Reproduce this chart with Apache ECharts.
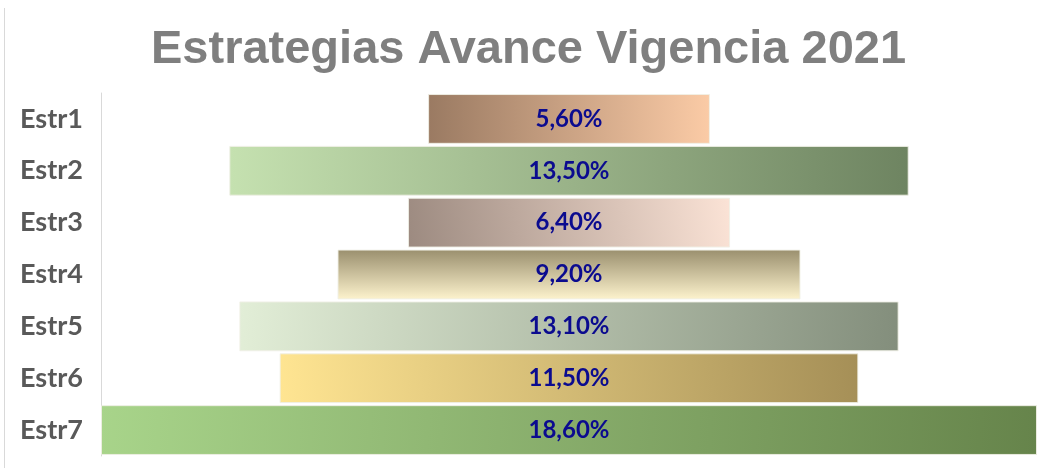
<!DOCTYPE html>
<html>
<head>
<meta charset="utf-8">
<script src="https://cdn.jsdelivr.net/npm/echarts@6/dist/echarts.min.js"></script>
<style>
html,body{margin:0;padding:0;background:#fff;}
#chart{width:1043px;height:468px;}
</style>
</head>
<body>
<div id="chart"></div>
<script>
const titleText = 'Estrategias Avance Vigencia 2021';
const categories = ['Estr1','Estr2','Estr3','Estr4','Estr5','Estr6','Estr7'];
const values = [5.6, 13.5, 6.4, 9.2, 13.1, 11.5, 18.6];
const axisMax = 18.6;

// gradient definitions per bar: [x, y, x2, y2, startColor, endColor]
const gradients = [
  [0,0,1,0,'#9A7A62','#FBCBA6'],
  [0,0,1,0,'#C5E1B0','#6E8461'],
  [0,1,1,0,'#9C8A80','#FBE3D6'],
  [0,0,0,1,'#9A8F6E','#FDF3CD'],
  [0,0,1,1,'#E2EED7','#838E7C'],
  [0,1,1,0,'#FFE592','#A58F57'],
  [0,0,1,1,'#A8D48A','#66844B']
];

const offsets = values.map(v => (axisMax - v) / 2);
const barData = values.map((v, i) => {
  const g = gradients[i];
  return {
    value: v,
    itemStyle: {
      color: {type:'linear', x:g[0], y:g[1], x2:g[2], y2:g[3],
        colorStops:[{offset:0,color:g[4]},{offset:1,color:g[5]}]},
      borderColor: 'rgba(240,240,230,0.9)',
      borderWidth: 1
    }
  };
});

const chart = echarts.init(document.getElementById('chart'));
chart.setOption({
  animation: false,
  backgroundColor: '#fff',
  title: {
    text: titleText,
    left: 151,
    top: 27,
    padding: 0,
    textStyle: {
      fontFamily: '"Liberation Sans", Arial, sans-serif',
      fontWeight: 'bold',
      fontSize: 47,
      color: '#7F7F7F'
    }
  },
  graphic: [{
    type: 'line',
    shape: {x1: 4.5, y1: 8, x2: 4.5, y2: 468},
    style: {stroke: '#D9D9D9', lineWidth: 1}
  }],
  grid: {left: 101, right: 6, top: 93, bottom: 12, containLabel: false},
  xAxis: {
    type: 'value', min: 0, max: axisMax, show: false
  },
  yAxis: {
    type: 'category',
    data: categories,
    inverse: true,
    axisLine: {show: true, lineStyle: {color: '#D9D9D9', width: 1}},
    axisTick: {show: false},
    axisLabel: {
      margin: 18,
      fontFamily: 'Lato, "Open Sans", sans-serif',
      fontWeight: 'bold',
      fontSize: 27,
      color: '#595959'
    }
  },
  series: [
    {
      type: 'bar',
      stack: 'f',
      data: offsets,
      itemStyle: {color: 'transparent'},
      silent: true,
      barCategoryGap: '4%'
    },
    {
      type: 'bar',
      stack: 'f',
      data: barData,
      barCategoryGap: '4%',
      label: {
        show: true,
        position: 'inside',
        formatter: p => p.value.toFixed(2).replace('.', ',') + '%',
        fontFamily: 'Lato, "Open Sans", sans-serif',
        fontWeight: 'bold',
        fontSize: 24,
        color: '#0B0B8F'
      }
    }
  ]
});
</script>
</body>
</html>
